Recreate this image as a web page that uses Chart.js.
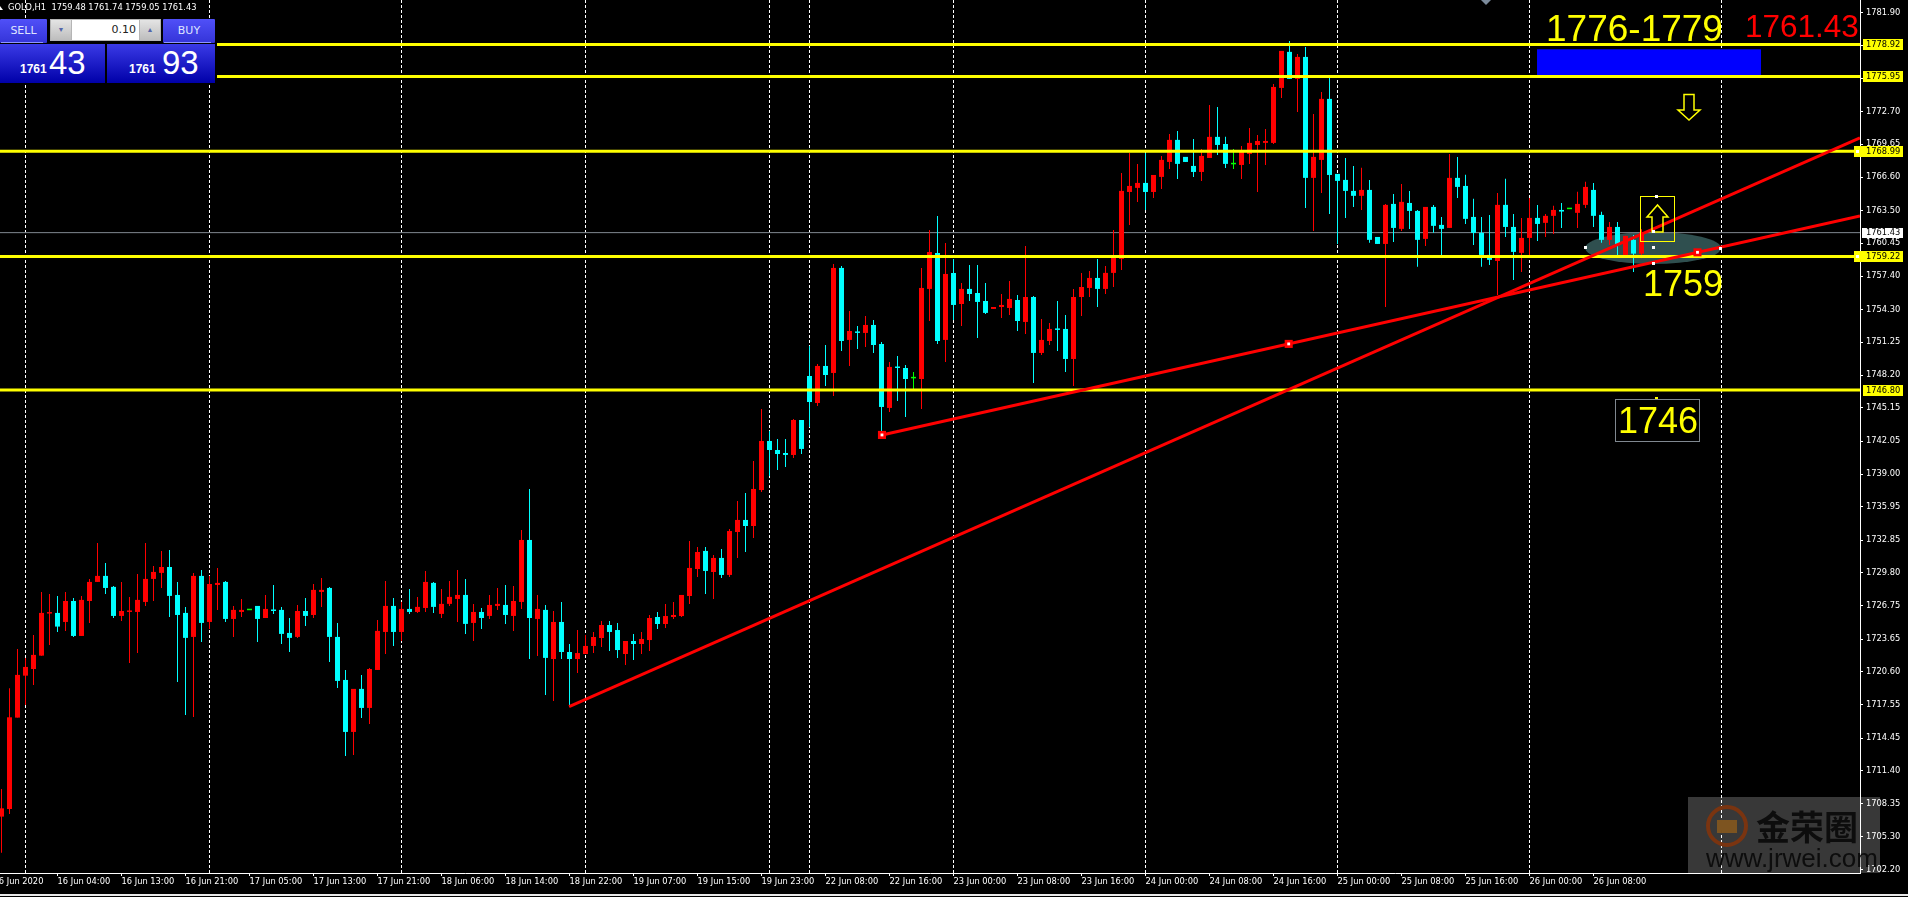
<!DOCTYPE html>
<html>
<head>
<meta charset="utf-8">
<title>GOLD,H1</title>
<script src="https://cdn.jsdelivr.net/npm/chart.js@4/dist/chart.umd.min.js"></script>
<style>
  html, body { margin: 0; padding: 0; background: #000; overflow: hidden; }
  #wrap { position: relative; width: 1908px; height: 897px; font-family: "Liberation Sans", Arial, sans-serif; color: #fff; }
  canvas { position: absolute; left: 0; top: 0; }
  .abs { position: absolute; white-space: nowrap; }
  .top { background: linear-gradient(#5050f8, #3434d8); border-radius: 1px; text-align: center; font-family: "DejaVu Sans"; font-size: 11px; line-height: 23px; color: #dfe4ff; }
  .top i { position: absolute; left: 1px; right: 4px; bottom: 0; height: 1px; background: #8f96ff; }
  .price { background: linear-gradient(#3a3ae6, #0000a8); }
  .spin { background: linear-gradient(#e4e4e4, #bdbdbd); color: #5566aa; font-size: 7px; line-height: 20px; text-align: center; }
</style>
</head>
<body>
<div id="wrap">
  <canvas id="chart" width="1908" height="897"></canvas>
  <div class="abs" style="left:0;top:1px;font-family:'DejaVu Sans';font-size:8.3px;line-height:12px;padding-left:8px">GOLD,H1&nbsp; 1759.48 1761.74 1759.05 1761.43</div>
  <div class="abs" style="left:0;top:18px;width:217px;height:66px;background:#000"></div>
  <div class="abs top" style="left:0;top:19px;width:47px;height:24px">SELL<i></i></div>
  <div class="abs" style="left:50px;top:19px;width:111px;height:22px;background:#b5b5b5"></div>
  <div class="abs spin" style="left:51px;top:20px;width:20px;height:20px">&#9660;</div>
  <div class="abs" style="left:72px;top:20px;width:67px;height:20px;background:#fff;color:#222;font-family:'DejaVu Sans';font-size:11px;line-height:20px;text-align:right"><span style="padding-right:3px">0.10</span></div>
  <div class="abs spin" style="left:140px;top:20px;width:20px;height:20px">&#9650;</div>
  <div class="abs top" style="left:163px;top:19px;width:52px;height:24px">BUY<i></i></div>
  <div class="abs price" style="left:0;top:44px;width:105px;height:39px"></div>
  <div class="abs price" style="left:107px;top:44px;width:108px;height:39px"></div>
  <div class="abs" style="left:20px;top:62px;font-size:12px;line-height:14px;font-weight:bold">1761</div>
  <div class="abs" style="left:49px;top:44px;font-size:33px;line-height:38px">43</div>
  <div class="abs" style="left:129px;top:62px;font-size:12px;line-height:14px;font-weight:bold">1761</div>
  <div class="abs" style="left:162px;top:44px;font-size:33px;line-height:38px">93</div>
</div>
<script>
// GOLD H1 candles
const opens = [
  1707.16,1707.87,1716.36,1720.26,1720.88,1722.12,1726.03,1726.09,1725.25,1727.20,
  1723.95,1727.20,1728.97,1729.53,1728.51,1725.81,1726.18,1726.18,1727.11,1729.25,
  1729.81,1730.36,1727.76,1726.09,1723.86,1729.53,1725.25,1728.69,1728.97,1725.53,
  1726.18,1726.34,1726.74,1725.62,1726.37,1726.37,1724.23,1723.86,1726.27,1725.90,
  1728.04,1728.41,1723.86,1719.86,1715.03,1719.03,1717.26,1720.79,1724.32,1726.74,
  1724.32,1726.46,1726.18,1726.55,1728.88,1726.00,1726.93,1727.39,1727.76,1725.16,
  1726.18,1725.81,1726.74,1726.83,1725.81,1727.11,1732.87,1725.53,1726.37,1721.81,
  1725.25,1722.46,1721.81,1722.27,1723.02,1723.76,1724.97,1724.50,1722.27,1723.48,
  1723.20,1723.57,1725.71,1725.06,1725.71,1725.80,1727.66,1730.17,1731.85,1729.89,
  1731.20,1729.62,1733.61,1734.73,1734.17,1737.51,1742.07,1741.23,1740.95,1740.77,
  1744.02,1748.11,1745.60,1749.04,1748.39,1758.15,1751.46,1752.20,1752.11,1752.85,
  1751.08,1745.14,1748.95,1748.85,1747.89,1747.83,1756.20,1759.54,1751.46,1757.68,
  1754.80,1756.20,1755.82,1755.08,1754.34,1754.52,1754.43,1755.17,1753.13,1755.45,
  1750.25,1751.36,1752.48,1752.48,1749.69,1755.45,1756.29,1757.22,1756.20,1757.69,
  1758.99,1765.21,1765.59,1766.05,1765.21,1766.61,1768.00,1770.05,1768.47,1767.63,
  1767.07,1768.37,1770.33,1769.67,1767.78,1767.72,1768.75,1769.58,1769.77,1769.77,
  1774.88,1778.23,1775.72,1777.76,1766.52,1768.19,1773.86,1766.89,1766.33,1765.31,
  1764.85,1765.40,1761.03,1760.38,1764.10,1761.78,1764.19,1763.45,1760.85,1763.82,
  1762.15,1761.87,1766.52,1765.77,1762.89,1761.41,1759.36,1758.80,1764.01,1761.96,
  1759.55,1760.94,1762.80,1762.34,1762.99,1763.54,1763.61,1763.27,1764.01,1765.40,
  1763.08,1760.76,1761.96,1759.36,1760.76,1759.48
];
const highs = [
  1709.73,1719.09,1722.74,1721.91,1724.04,1728.04,1727.85,1727.67,1728.04,1727.48,
  1727.67,1729.25,1732.59,1730.74,1728.60,1728.97,1727.58,1729.71,1732.59,1730.46,
  1731.85,1731.94,1728.97,1726.65,1729.81,1730.09,1729.53,1730.27,1729.06,1726.74,
  1727.39,1726.34,1726.74,1727.76,1728.69,1726.65,1725.62,1726.83,1727.48,1728.78,
  1729.34,1728.51,1725.16,1720.79,1719.03,1720.33,1720.98,1725.44,1729.06,1727.48,
  1727.11,1728.32,1727.58,1729.99,1728.97,1728.32,1729.06,1730.09,1729.25,1726.93,
  1726.55,1727.76,1728.41,1728.69,1728.60,1733.80,1737.61,1727.76,1726.83,1726.27,
  1727.11,1723.21,1724.50,1724.04,1724.32,1725.34,1725.34,1725.15,1723.48,1724.13,
  1724.32,1725.90,1726.18,1726.92,1727.10,1727.76,1732.78,1732.22,1732.22,1731.47,
  1732.03,1733.89,1736.49,1737.24,1740.21,1745.04,1743.00,1742.25,1742.25,1744.11,
  1744.02,1750.90,1749.23,1750.99,1758.52,1758.33,1754.15,1752.76,1753.69,1753.31,
  1751.27,1749.41,1749.97,1749.13,1748.48,1758.15,1761.68,1762.98,1760.47,1758.98,
  1756.75,1758.43,1758.43,1756.75,1754.52,1755.73,1756.94,1755.64,1760.19,1755.55,
  1753.41,1753.04,1755.08,1753.78,1756.20,1757.68,1757.87,1758.98,1758.34,1761.68,
  1766.98,1768.84,1767.82,1768.84,1766.79,1768.56,1770.60,1770.88,1768.47,1770.14,
  1769.21,1773.30,1773.11,1770.33,1769.21,1769.49,1771.16,1770.51,1771.07,1775.25,
  1778.32,1779.25,1778.04,1778.69,1772.46,1774.51,1775.81,1766.89,1768.37,1767.63,
  1767.45,1766.33,1761.03,1764.10,1765.03,1765.96,1765.31,1763.54,1763.82,1764.01,
  1762.89,1768.75,1768.47,1766.80,1764.57,1762.89,1763.08,1765.12,1766.43,1763.17,
  1762.80,1764.66,1764.01,1763.17,1763.92,1764.19,1763.61,1765.22,1766.15,1766.05,
  1763.36,1762.43,1762.43,1761.13,1761.22,1761.74
];
const lows = [
  1703.81,1707.41,1716.36,1717.54,1719.40,1722.12,1723.11,1724.32,1724.42,1723.86,
  1723.95,1725.16,1728.97,1727.85,1725.62,1725.35,1721.44,1722.37,1726.74,1727.20,
  1728.41,1725.72,1719.68,1716.61,1716.42,1723.39,1724.60,1726.37,1725.25,1723.86,
  1725.72,1726.34,1723.39,1725.62,1726.00,1723.21,1722.46,1723.77,1724.88,1725.62,
  1726.65,1721.54,1719.12,1712.80,1712.89,1716.33,1715.77,1720.79,1722.28,1723.02,
  1723.49,1726.00,1726.09,1726.18,1726.09,1725.62,1726.74,1725.25,1724.14,1723.49,
  1724.60,1725.53,1726.37,1725.07,1724.42,1726.46,1721.81,1722.09,1718.47,1717.91,
  1721.81,1717.35,1720.51,1722.27,1722.36,1722.92,1722.55,1721.90,1721.25,1721.71,
  1722.27,1722.55,1724.60,1724.69,1725.52,1725.71,1726.92,1729.43,1727.85,1727.38,
  1729.34,1729.43,1731.20,1731.75,1733.05,1737.33,1738.82,1739.37,1739.65,1740.49,
  1740.86,1743.37,1745.32,1747.18,1746.25,1750.43,1749.04,1750.62,1750.81,1750.25,
  1743.00,1744.76,1745.79,1744.30,1746.81,1745.04,1753.22,1751.08,1749.41,1753.31,
  1752.76,1755.08,1751.64,1753.87,1754.34,1753.50,1753.78,1752.29,1752.01,1747.46,
  1750.06,1750.99,1750.43,1748.48,1747.18,1753.69,1755.45,1754.52,1755.73,1756.38,
  1757.96,1762.15,1764.28,1763.54,1764.66,1765.49,1767.35,1766.42,1768.00,1766.61,
  1766.24,1768.37,1768.65,1767.44,1767.35,1766.42,1767.82,1765.21,1767.72,1769.67,
  1773.95,1775.72,1772.65,1763.73,1761.59,1765.12,1763.17,1760.38,1762.80,1763.82,
  1763.54,1760.48,1760.38,1754.53,1760.57,1761.59,1761.78,1758.25,1760.20,1761.41,
  1759.36,1761.87,1764.66,1762.24,1760.29,1758.25,1758.43,1755.64,1761.03,1757.04,
  1757.78,1759.36,1760.66,1761.03,1761.31,1761.87,1763.61,1761.87,1763.73,1761.96,
  1760.48,1760.29,1759.36,1759.36,1757.78,1759.05
];
const closes = [
  1707.93,1716.39,1720.33,1721.07,1722.19,1726.09,1726.09,1724.82,1727.20,1723.95,
  1727.30,1728.97,1729.53,1728.41,1725.81,1726.27,1726.27,1727.30,1729.25,1729.90,
  1730.36,1727.67,1725.90,1723.77,1729.53,1725.16,1728.78,1728.88,1725.53,1726.37,
  1726.37,1726.34,1725.53,1726.46,1726.27,1724.14,1723.77,1726.27,1725.81,1728.23,
  1728.23,1723.86,1719.77,1715.03,1719.03,1717.26,1720.88,1724.42,1726.74,1724.32,
  1726.46,1726.18,1726.65,1728.97,1726.65,1726.93,1727.58,1727.76,1725.07,1726.18,
  1725.62,1726.83,1726.93,1725.90,1727.20,1732.87,1725.62,1726.46,1721.91,1725.25,
  1722.46,1721.81,1722.36,1723.02,1723.85,1724.97,1724.32,1722.64,1723.48,1723.20,
  1723.67,1725.62,1725.06,1725.80,1725.90,1727.76,1730.27,1731.75,1729.99,1731.20,
  1729.62,1733.70,1734.73,1734.17,1737.61,1742.07,1741.23,1740.86,1740.77,1744.02,
  1741.33,1745.69,1749.04,1748.20,1758.15,1751.36,1752.29,1752.11,1752.85,1750.99,
  1745.23,1748.95,1748.85,1747.83,1747.89,1756.29,1759.63,1751.36,1757.59,1754.71,
  1756.20,1755.73,1754.99,1753.97,1754.52,1754.71,1755.27,1753.22,1755.45,1750.25,
  1751.46,1752.48,1752.39,1749.69,1755.45,1756.38,1757.22,1756.20,1757.69,1759.27,
  1765.31,1765.77,1766.05,1765.21,1766.79,1768.19,1770.05,1767.82,1768.00,1767.07,
  1768.56,1770.33,1769.58,1767.82,1767.78,1768.93,1769.77,1769.95,1769.95,1774.97,
  1778.32,1775.72,1777.76,1766.52,1768.47,1773.86,1766.79,1766.24,1765.31,1764.85,
  1765.40,1760.76,1760.38,1764.01,1761.87,1764.29,1763.45,1760.76,1763.82,1762.06,
  1761.78,1766.52,1765.68,1762.71,1761.41,1759.36,1758.90,1764.01,1761.96,1759.64,
  1760.94,1762.80,1762.24,1762.99,1763.54,1763.39,1763.61,1764.10,1765.68,1762.99,
  1760.76,1761.96,1760.38,1761.13,1759.48,1761.43
];

// bar number of each time label
const timeTickBars = [-1,7,15,23,31,39,47,55,63,71,79,87,95,103,111,119,127,135,143,151,159,167,175,183,191,199];
const timeTickLabels = ["16 Jun 2020","16 Jun 04:00","16 Jun 13:00","16 Jun 21:00","17 Jun 05:00","17 Jun 13:00",
  "17 Jun 21:00","18 Jun 06:00","18 Jun 14:00","18 Jun 22:00","19 Jun 07:00","19 Jun 15:00","19 Jun 23:00",
  "22 Jun 08:00","22 Jun 16:00","23 Jun 00:00","23 Jun 08:00","23 Jun 16:00","24 Jun 00:00","24 Jun 08:00",
  "24 Jun 16:00","25 Jun 00:00","25 Jun 08:00","25 Jun 16:00","26 Jun 00:00","26 Jun 08:00"];
const priceTicks = [1781.90,1778.85,1775.80,1772.70,1769.65,1766.60,1763.50,1760.45,1757.40,1754.30,1751.25,1748.20,
  1745.15,1742.05,1739.00,1735.95,1732.85,1729.80,1726.75,1723.65,1720.60,1717.55,1714.45,1711.40,1708.35,1705.30,1702.20];
const separatorBars = [3,26,50,73,96,101,119,143,167,191,215];
const levels = [1778.92,1775.95,1768.99,1759.22,1746.80];
const lastPrice = 1761.43;
const trendA = [{x:70.95,y:1717.38},{x:232.3125,y:1770.23}];
const trendB = [{x:110.06,y:1742.63},{x:232.3125,y:1762.98}];
const trendHandles = [{x:110.06,y:1742.63},{x:160.9,y:1751.09},{x:212,y:1759.6}];
const zoneBox = [{x:205.94,y:[1776.09,1778.47]}];

const xMin = -0.1875, xMax = 232.3125, yMin = 1701.92, yMax = 1783.05;
const RED = "#ff0000", CYAN = "#00ffff", GREEN = "#00ff00", YELLOW = "#ffff00";
const FONT = '"Liberation Sans", Arial, sans-serif', AXIS_FONT = '"DejaVu Sans", sans-serif', AXIS_SIZE = 8.3;

const barColor = closes.map((c, i) => (c > opens[i] ? RED : c < opens[i] ? CYAN : GREEN));
const withGaps = (rows) => rows.flatMap((r) => [...r, {x: r[0].x, y: NaN}]);

const overlays = {
  id: "overlays",
  beforeDatasetsDraw(chart) {
    // the grey ellipse sits behind the candles
    const {ctx, scales: {x, y}} = chart;
    ctx.save();
    ctx.fillStyle = "#2f4f4f";
    ctx.beginPath();
    ctx.ellipse(x.getPixelForValue(206.45), y.getPixelForValue(1760.0), 68, 16, 0, 0, Math.PI * 2);
    ctx.fill();
    ctx.restore();
  },
  afterDatasetsDraw(chart) {
    const {ctx} = chart;
    ctx.save();
    ctx.textBaseline = "alphabetic";
    ctx.textAlign = "left";
    ctx.font = "37px " + FONT;
    ctx.fillStyle = YELLOW;
    ctx.fillText("1776-1779", 1546, 41);
    ctx.font = "36px " + FONT;
    ctx.fillText("1759", 1643, 296);
    ctx.fillText("1746", 1618, 433);
    ctx.font = "31.5px " + FONT;
    ctx.fillStyle = RED;
    ctx.fillText("1761.43", 1745, 37);

    // box round 1746
    ctx.strokeStyle = "#808890";
    ctx.lineWidth = 1;
    ctx.strokeRect(1615.5, 399.5, 84, 42);

    // arrows
    ctx.strokeStyle = YELLOW;
    ctx.lineWidth = 1.5;
    ctx.beginPath();
    [[1684,94.5],[1694,94.5],[1694,110],[1700,110],[1689,120],[1678,110],[1684,110]].forEach((p, i) => i ? ctx.lineTo(p[0], p[1]) : ctx.moveTo(p[0], p[1]));
    ctx.closePath();
    ctx.stroke();
    ctx.beginPath();
    [[1652,232],[1663,232],[1663,217],[1668,217],[1657.5,205],[1647,217],[1652,217]].forEach((p, i) => i ? ctx.lineTo(p[0], p[1]) : ctx.moveTo(p[0], p[1]));
    ctx.closePath();
    ctx.stroke();
    ctx.lineWidth = 1;
    ctx.strokeRect(1640.5, 196.5, 34, 45);

    // selection handles
    ctx.fillStyle = "#fff";
    [[1655,195],[1652,230],[1584,246],[1652,246],[1652,262],[1719,247]].forEach((p) => ctx.fillRect(p[0], p[1], 3, 3));
    ctx.fillStyle = YELLOW;
    ctx.fillRect(1655, 397, 3, 2);
    ctx.restore();
  },
  afterDraw(chart) {
    const {ctx, scales: {y}} = chart;
    ctx.save();
    ctx.textBaseline = "middle";
    ctx.textAlign = "left";
    ctx.font = AXIS_SIZE + "px " + AXIS_FONT;

    // price tags
    levels.forEach((level, i) => {
      const py = Math.round(y.getPixelForValue(level));
      const wide = i === 2 || i === 3;
      const left = wide ? 1854 : 1863;
      ctx.fillStyle = YELLOW;
      ctx.fillRect(left, py - 5, 1903 - left, 11);
      if (wide) {
        ctx.fillStyle = "#fff";
        ctx.fillRect(1856, py - 1, 3, 3);
      }
      ctx.fillStyle = "#000";
      ctx.fillText(level.toFixed(2), 1866, py + 1);
    });
    const lastY = Math.round(y.getPixelForValue(lastPrice));
    ctx.fillStyle = "#fff";
    ctx.fillRect(1862, lastY - 5, 41, 10);
    ctx.fillStyle = "#000";
    ctx.fillText(lastPrice.toFixed(2), 1866, lastY);

    // marker at the top edge, small arrow before the symbol
    ctx.fillStyle = "#7b8a9b";
    ctx.beginPath();
    ctx.moveTo(1481, 0); ctx.lineTo(1491, 0); ctx.lineTo(1486, 5);
    ctx.closePath();
    ctx.fill();
    ctx.fillStyle = "#fff";
    ctx.beginPath();
    ctx.moveTo(0, 10); ctx.lineTo(3, 10); ctx.lineTo(0, 6);
    ctx.closePath();
    ctx.fill();

    // jrwei watermark
    ctx.fillStyle = "rgba(255,255,255,0.22)";
    ctx.fillRect(1688, 797, 192, 76);
    ctx.strokeStyle = "#7a3410";
    ctx.lineWidth = 4;
    ctx.beginPath();
    ctx.arc(1727, 826, 19, 0, Math.PI * 2);
    ctx.stroke();
    ctx.fillStyle = "#7d5420";
    ctx.fillRect(1717, 820, 20, 13);
    ctx.textBaseline = "alphabetic";
    ctx.fillStyle = "#0d0d0d";
    ctx.font = 'bold 34px "Noto Sans CJK SC"';
    ctx.fillText("金荣圈", 1756, 840);
    ctx.font = "26px " + FONT;
    ctx.fillText("www.jrwei.com", 1706, 867);

    // window edge below the chart
    ctx.fillStyle = "#e8e8e8";
    ctx.fillRect(0, 894, 1908, 2);
    ctx.fillStyle = "#000";
    ctx.fillRect(69, 896, 1839, 1);
    ctx.restore();
  }
};

new Chart(document.getElementById("chart"), {
  type: "bar",
  data: {
    datasets: [
      {
        type: "scatter", order: 0, data: trendHandles, pointStyle: "rect",
        pointRadius: 2, pointBackgroundColor: "#fff", pointBorderWidth: 0
      },
      {
        type: "scatter", order: 1, data: trendHandles, pointStyle: "rect",
        pointRadius: 5.7, pointBackgroundColor: RED, pointBorderWidth: 0
      },
      { type: "line", order: 2, data: trendA, borderColor: RED, borderWidth: 3, pointRadius: 0 },
      { type: "line", order: 2, data: trendB, borderColor: RED, borderWidth: 3, pointRadius: 0 },
      {
        type: "line", order: 3, data: withGaps(levels.map((v) => [{x: xMin, y: v}, {x: xMax, y: v}])),
        borderColor: YELLOW, borderWidth: 3, pointRadius: 0, spanGaps: false
      },
      {
        order: 4, data: zoneBox, backgroundColor: "#0000ff",
        barThickness: 224, grouped: false, inflateAmount: 0
      },
      {
        order: 5, data: opens.map((o, i) => ({x: i, y: [o, closes[i]]})), backgroundColor: barColor,
        barThickness: 5, grouped: false, inflateAmount: 0, minBarLength: 1.5
      },
      {
        order: 6, data: highs.map((h, i) => ({x: i, y: [lows[i], h]})), backgroundColor: barColor,
        barThickness: 1, grouped: false, inflateAmount: 0
      },
      {
        type: "line", order: 7, data: [{x: xMin, y: lastPrice}, {x: xMax, y: lastPrice}],
        borderColor: "#808890", borderWidth: 1, pointRadius: 0
      },
      {
        type: "line", order: 8, data: withGaps(separatorBars.map((b) => [{x: b, y: yMin}, {x: b, y: yMax}])),
        borderColor: "#fff", borderWidth: 1, borderDash: [3, 2], pointRadius: 0, spanGaps: false
      }
    ]
  },
  options: {
    responsive: false,
    animation: false,
    devicePixelRatio: 1,
    events: [],
    // chart area has to reach the canvas edges, like the platform window
    layout: { padding: 0, autoPadding: false },
    plugins: { legend: { display: false }, tooltip: { enabled: false } },
    scales: {
      x: {
        type: "linear", min: xMin, max: xMax, offset: false, bounds: "data",
        grid: { drawOnChartArea: false, color: "#fff", tickLength: 3, offset: false },
        border: { color: "#fff" },
        ticks: {
          autoSkip: false, maxRotation: 0, minRotation: 0, align: "start", padding: 1, color: "#fff",
          font: { family: AXIS_FONT, size: AXIS_SIZE },
          callback: (v) => timeTickLabels[timeTickBars.indexOf(v)] ?? ""
        },
        afterBuildTicks: (s) => { s.ticks = timeTickBars.map((v) => ({value: v})); },
        afterFit: (s) => { s.height = 24; s.paddingLeft = 0; s.paddingRight = 0; }
      },
      y: {
        type: "linear", position: "right", min: yMin, max: yMax, bounds: "data",
        grid: { drawOnChartArea: false, color: "#fff", tickLength: 3 },
        border: { color: "#fff" },
        ticks: {
          autoSkip: false, padding: 3, color: "#fff",
          font: { family: AXIS_FONT, size: AXIS_SIZE },
          callback: (v) => v.toFixed(2)
        },
        afterBuildTicks: (s) => { s.ticks = priceTicks.map((v) => ({value: v})); },
        afterFit: (s) => { s.width = 48; s.paddingTop = 0; s.paddingBottom = 0; }
      }
    }
  },
  plugins: [overlays]
});
</script>
</body>
</html>
